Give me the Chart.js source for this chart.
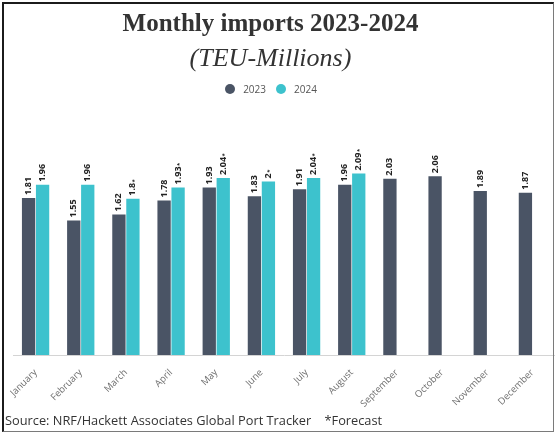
<!DOCTYPE html>
<html>
<head>
<meta charset="utf-8">
<title>Monthly imports 2023-2024</title>
<script src="https://cdn.jsdelivr.net/npm/chart.js@4.4.1/dist/chart.umd.min.js"></script>
<style>
  html, body { margin: 0; padding: 0; background: #fff; }
  #wrap { position: relative; width: 555px; height: 433px; overflow: hidden; }
  #chart { position: absolute; left: 0; top: 0; }
  .frame {
    position: absolute; left: 2px; top: 2px; width: 549px; height: 427px;
    border-left: 2px solid #1b1b1b; border-top: 2px solid #1b1b1b;
    border-right: 1px solid #7a7a7a; border-bottom: 1px solid #7a7a7a;
    pointer-events: none;
  }
  .head { position: absolute; left: 0; width: 541px; text-align: center; color: #333; font-family: "Liberation Serif", serif; line-height: 1; white-space: nowrap; }
  .title { top: 10px; font-size: 25px; font-weight: bold; }
  .subtitle { top: 45px; font-size: 26px; font-style: italic; }
  .legend { position: absolute; left: 0; top: 83px; width: 542px; text-align: center; font-family: "Open Sans", sans-serif; font-size: 10px; color: #555; line-height: 12px; }
  .legend span.item { display: inline-block; margin: 0 5px; }
  .legend i { display: inline-block; width: 10px; height: 10px; border-radius: 50%; vertical-align: -1px; margin-right: 8px; }
  .source { position: absolute; left: 5px; top: 411px; font-family: "Open Sans", sans-serif; font-size: 12.8px; color: #333; white-space: pre; }
</style>
</head>
<body>
<div id="wrap">
  <canvas id="chart" width="555" height="433"></canvas>
  <div class="head title">Monthly imports 2023-2024</div>
  <div class="head subtitle">(TEU-Millions)</div>
  <div class="legend" id="legend"></div>
  <div class="source">Source: NRF/Hackett Associates Global Port Tracker    *Forecast</div>
  <div class="frame"></div>
</div>
<script>
// TEU, millions
const months = [
    "January", "February", "March", "April", "May", "June",
    "July", "August", "September", "October", "November", "December"
];
const seriesNames = ["2023", "2024"];
const imports2023 = [1.81, 1.55, 1.62, 1.78, 1.93, 1.83, 1.91, 1.96, 2.03, 2.06, 1.89, 1.87];
const imports2024 = [1.96, 1.96, 1.8, 1.93, 2.04, 2, 2.04, 2.09, null, null, null, null];
const forecast2024 = [false, false, true, true, true, true, true, true, false, false, false, false];

const DARK = "#4a5465";
const TEAL = "#3dc2cd";

// values written above each bar, turned upright
const valueLabels = {
    id: "valueLabels",
    afterDatasetsDraw(chart) {
        const ctx = chart.ctx;
        chart.data.datasets.forEach((ds, i) => {
            const meta = chart.getDatasetMeta(i);
            meta.data.forEach((bar, j) => {
                const v = ds.data[j];
                if (v === null || v === undefined) return;
                const text = String(v);
                ctx.save();
                ctx.translate(bar.x, bar.y - 3);
                ctx.rotate(-Math.PI / 2);
                ctx.font = "bold 9px 'Open Sans'";
                ctx.fillStyle = "#222";
                ctx.textAlign = "left";
                ctx.textBaseline = "middle";
                ctx.fillText(text, 0, 0);
                if (ds.forecast && ds.forecast[j]) {
                    const w = ctx.measureText(text).width;
                    ctx.font = "bold 6px 'Open Sans'";
                    ctx.fillText("*", w + 0.5, 1);
                }
                ctx.restore();
            });
        });
    }
};

function buildLegend(datasets) {
    const el = document.getElementById("legend");
    el.innerHTML = datasets.map(ds =>
        `<span class="item"><i style="background:${ds.backgroundColor}"></i>${ds.label}</span>`
    ).join("");
}

const datasets = [
    {
        label: seriesNames[0],
        data: imports2023,
        backgroundColor: DARK
    },
    {
        label: seriesNames[1],
        data: imports2024,
        forecast: forecast2024,
        backgroundColor: TEAL
    }
];

new Chart(document.getElementById("chart"), {
    type: "bar",
    data: {
        labels: months,
        datasets: datasets
    },
    options: {
        responsive: false,
        animation: false,
        devicePixelRatio: 1,
        datasets: {
            bar: {
                categoryPercentage: 0.62,
                barPercentage: 0.95
            }
        },
        layout: {
            padding: { top: 138, left: 13, right: 0, bottom: 0 }
        },
        plugins: {
            legend: { display: false },
            tooltip: { enabled: false }
        },
        scales: {
            x: {
                grid: { display: false },
                border: { display: true, color: "#d4d4d4" },
                ticks: {
                    color: "#6f6f6f",
                    font: { family: "Open Sans", size: 9.5 },
                    minRotation: 45,
                    maxRotation: 45,
                    padding: 4
                },
                afterFit(scale) {
                    scale.height = 78;
                }
            },
            y: {
                display: false,
                min: 0,
                max: 2.5
            }
        }
    },
    plugins: [valueLabels]
});

buildLegend(datasets);
</script>
</body>
</html>
